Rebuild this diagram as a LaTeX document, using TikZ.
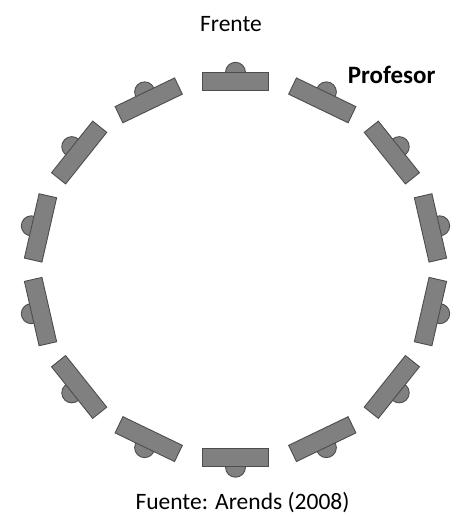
\documentclass[tikz,border=0pt]{standalone}
\usepackage{fontspec}
\setmainfont{Carlito}
\usepackage{xcolor}
\usepackage{tikz}
\usetikzlibrary{backgrounds}

\definecolor{deskgray}{HTML}{808080}
\definecolor{deskedge}{HTML}{4D4D4D}

\begin{document}
\begin{tikzpicture}[
    x=1pt, y=1pt,
    font=\fontsize{23.5}{28}\selectfont,
    desk/.style={
        draw=deskedge,
        fill=deskgray,
        line width=0.9pt,
        minimum width=66pt,
        minimum height=18pt,
        inner sep=0pt
    },
    chair/.style={desk, circle, minimum width=20pt, minimum height=20pt},
    note/.style={anchor=base, inner sep=0pt}
]
\useasboundingbox (-235.5,-246.25) rectangle (214.5,269.75);

% ring of desks, chairs on the outer side
\foreach \i in {0,...,13} {
    \node[desk, rotate=-\i*360/14] (desk\i) at ({90-\i*360/14}:200pt and 188pt) {};
    \begin{scope}[on background layer]
        \node[chair] (chair\i) at (desk\i.north) {};
    \end{scope}
}

\node[note] (front) at (-4.5,238) {Frente};
\node[note, font=\fontsize{25}{29}\selectfont\bfseries] (teacher) at (156.2,186.4) {Profesor};
\node[note] (source) at (7,-240) {Fuente: Arends (2008)};
\end{tikzpicture}
\end{document}
